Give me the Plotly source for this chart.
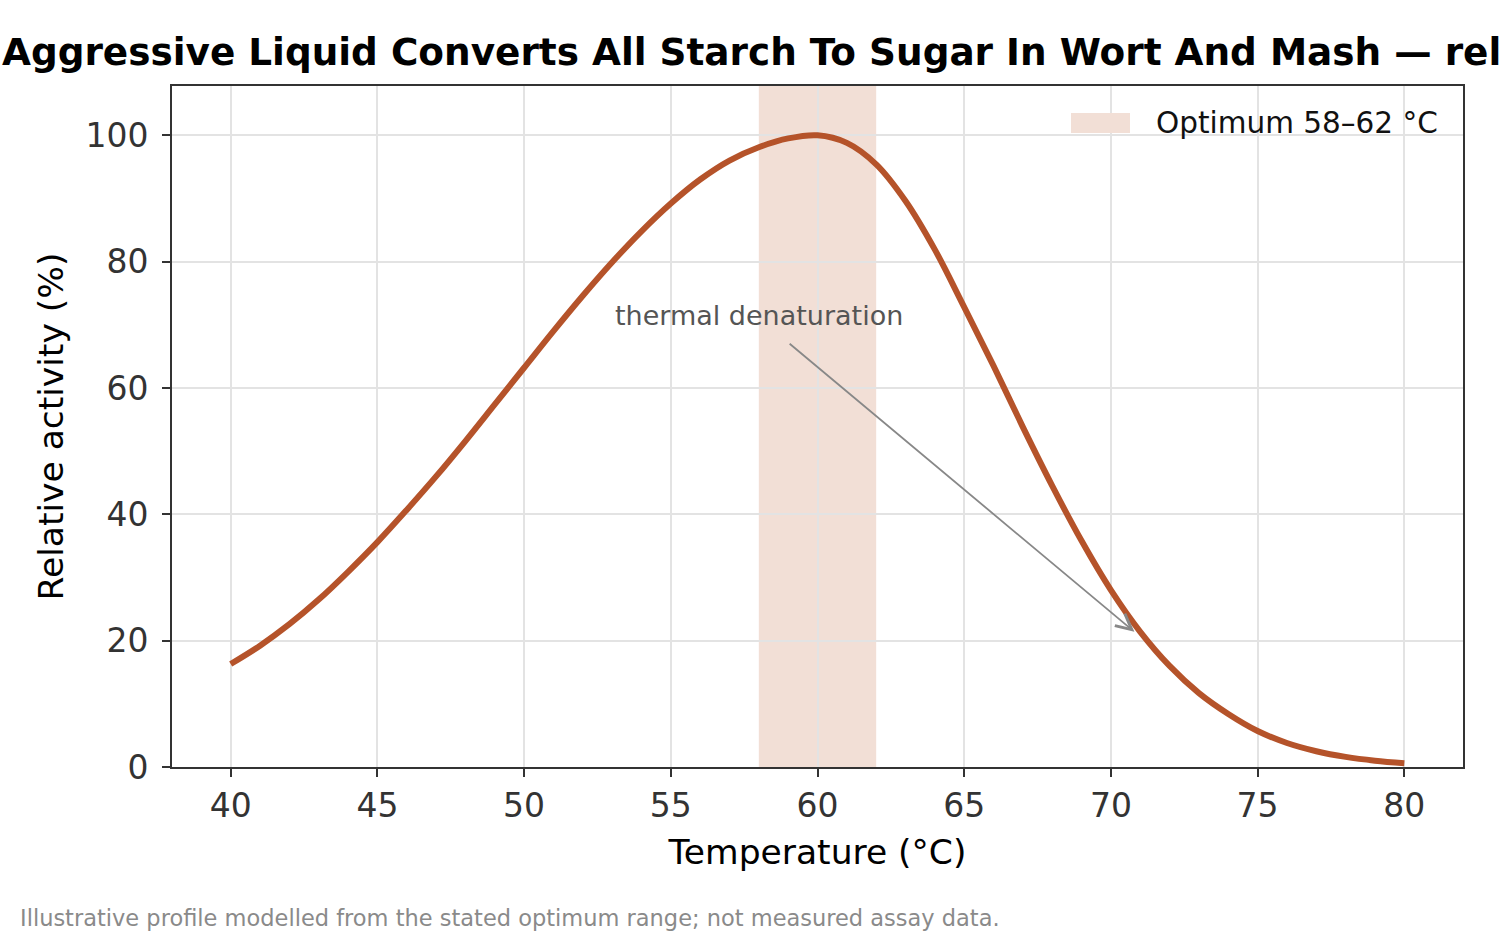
import plotly.graph_objects as go

# Data
temperature_c = list(range(40, 81))
relative_activity = [
    16.3, 19.2, 22.6, 26.5, 30.9, 35.6, 40.7, 46.0, 51.6, 57.4,
    63.2, 69.0, 74.6, 79.9, 84.8, 89.2, 93.0, 96.0, 98.1, 99.5,
    100.0, 98.8, 95.4, 89.6, 81.9, 72.8, 63.5, 53.8, 44.5, 35.8,
    28.0, 21.4, 16.0, 11.7, 8.4, 5.7, 3.8, 2.5, 1.6, 1.0, 0.6,
]
optimum_range = [58, 62]
optimum_label = "Optimum 58–62 °C"
x_ticks = [40, 45, 50, 55, 60, 65, 70, 75, 80]
y_ticks = [0, 20, 40, 60, 80, 100]
x_range = [38, 82]
y_range = [0, 107.8]
annotation_point = (70.8, 21.4)
annotation_tail = (59.0, 67.2)
annotation_text_pos = (58, 71.4)

title_text = "Aggressive Liquid Converts All Starch To Sugar In Wort And Mash — rel"
footer_text = "Illustrative profile modelled from the stated optimum range; not measured assay data."

LINE = "#b5532a"
BAND = "#f2dfd6"
FONT = "DejaVu Sans"

fig = go.Figure()

# Optimum band (below gridlines, like the reference)
fig.add_shape(
    type="rect", xref="x", yref="paper",
    x0=optimum_range[0], x1=optimum_range[1], y0=0, y1=1,
    fillcolor=BAND, line=dict(width=0), layer="below",
)

fig.add_trace(go.Scatter(
    x=temperature_c, y=relative_activity,
    mode="lines",
    line=dict(color=LINE, width=6, shape="spline", smoothing=1.0),
    showlegend=False,
))

# Legend (drawn manually to match the wide swatch)
fig.add_shape(
    type="rect", xref="paper", yref="paper",
    x0=(1071 - 172) / 1291, x1=(1130 - 172) / 1291,
    y0=(767 - 133) / 681, y1=(767 - 113) / 681,
    fillcolor=BAND, line=dict(width=0), layer="above",
)
fig.add_annotation(
    xref="paper", yref="paper",
    x=(1154 - 172) / 1291, y=(767 - 123) / 681,
    xanchor="left", yanchor="middle",
    text=optimum_label, showarrow=False,
    font=dict(family=FONT, size=29.5, color="#111111"),
)

# Arrow
fig.add_annotation(
    x=annotation_point[0], y=annotation_point[1],
    ax=annotation_tail[0], ay=annotation_tail[1],
    xref="x", yref="y", axref="x", ayref="y",
    text="", showarrow=True, arrowhead=5, arrowsize=1.7, arrowwidth=1.8,
    arrowcolor="#888888",
)
fig.add_annotation(
    x=annotation_text_pos[0], y=annotation_text_pos[1],
    xref="x", yref="y",
    text="thermal denaturation", showarrow=False,
    font=dict(family=FONT, size=27, color="#555555"),
)

fig.add_annotation(
    xref="paper", yref="paper", x=(18 - 172) / 1291, y=(767 - 918) / 681,
    xanchor="left", yanchor="middle",
    text=footer_text, showarrow=False,
    font=dict(family=FONT, size=22.5, color="#8a8a8a"),
)

fig.update_layout(
    width=1500, height=937,
    paper_bgcolor="white", plot_bgcolor="rgba(0,0,0,0)",
    margin=dict(l=172, r=37, t=86, b=170),
    font=dict(family=FONT, color="#333333"),
    title=dict(
        text="<b>" + title_text + "</b>",
        font=dict(family=FONT, size=37.4, color="#000000"),
        xref="container", x=0.0013, xanchor="left",
        yref="container", y=1 - 52 / 937, yanchor="middle",
    ),
    showlegend=False,
)

fig.update_xaxes(
    range=x_range, tickvals=x_ticks,
    showgrid=True, gridcolor="#e3e3e3", gridwidth=1.5,
    showline=True, linecolor="#333333", linewidth=2, mirror=True,
    ticks="outside", ticklen=8, tickwidth=2, tickcolor="#333333",
    tickfont=dict(family=FONT, size=33, color="#333333"),
    title=dict(text="Temperature (°C)", font=dict(family=FONT, size=34.5, color="#000000"), standoff=16),
    zeroline=False,
)
fig.update_yaxes(
    range=y_range, tickvals=y_ticks,
    showgrid=True, gridcolor="#e3e3e3", gridwidth=1.5,
    showline=True, linecolor="#333333", linewidth=2, mirror=True,
    ticks="outside", ticklen=8, tickwidth=2, tickcolor="#333333",
    ticklabelstandoff=7,
    tickfont=dict(family=FONT, size=33, color="#333333"),
    title=dict(text="Relative activity (%)", font=dict(family=FONT, size=34.5, color="#000000"), standoff=11),
    zeroline=False,
)

fig.write_html("out.html")
